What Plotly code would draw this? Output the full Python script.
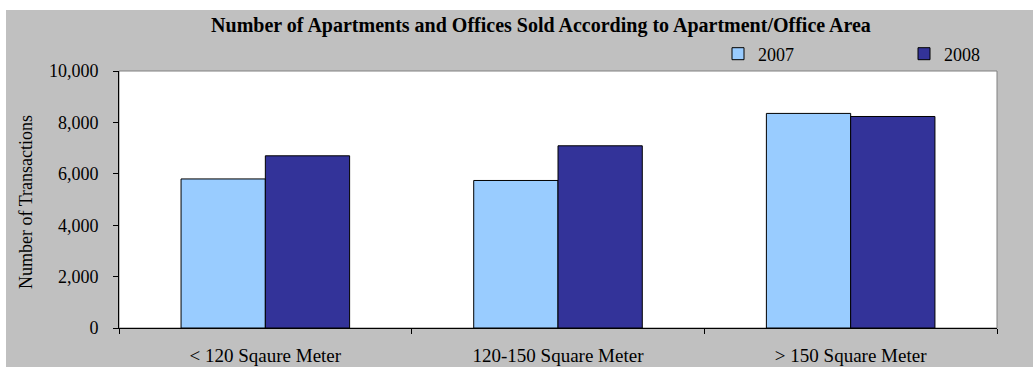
import plotly.graph_objects as go

# Transactions by apartment/office area, 2007 vs 2008
categories = ["< 120 Sqaure Meter", "120-150 Square Meter", "> 150 Square Meter"]
sales_2007 = [5800, 5740, 8350]
sales_2008 = [6700, 7090, 8230]

W, H = 1033, 367
ML, MR, MT, MB = 119, 36, 71, 39
PW, PH = W - ML - MR, H - MT - MB

SERIF = "Liberation Serif, Times New Roman, serif"


def px_x(px):
    return (px - ML) / PW


def px_y(py):
    return (H - MB - py) / PH


fig = go.Figure()
fig.add_trace(go.Bar(
    name="2007", x=categories, y=sales_2007,
    marker=dict(color="#99CCFF", line=dict(color="#000000", width=1)),
))
fig.add_trace(go.Bar(
    name="2008", x=categories, y=sales_2008,
    marker=dict(color="#333399", line=dict(color="#000000", width=1)),
))

shapes = [
    # grey chart panel, leaving a white border at the top and left of the page
    dict(type="rect", xref="paper", yref="paper", layer="below",
         x0=px_x(6), x1=px_x(W), y0=px_y(H), y1=px_y(10),
         fillcolor="#C0C0C0", line=dict(width=0)),
    # white plot area with a thin grey frame
    dict(type="rect", xref="paper", yref="paper", layer="below",
         x0=0, x1=1, y0=0, y1=1,
         fillcolor="#FFFFFF", line=dict(color="#808080", width=1)),
]

annotations = [
    dict(text="Number of Transactions", textangle=-90,
         xref="paper", yref="paper", x=px_x(26), y=px_y(202),
         xanchor="center", yanchor="middle", showarrow=False,
         font=dict(family=SERIF, size=18, color="#000000")),
]

fig.update_layout(
    template="none",
    width=W, height=H,
    margin=dict(l=ML, r=MR, t=MT, b=MB, pad=0, autoexpand=False),
    paper_bgcolor="#FFFFFF",
    plot_bgcolor="rgba(0,0,0,0)",
    font=dict(family=SERIF, size=18, color="#000000"),
    title=dict(
        text="<b>Number of Apartments and Offices Sold According to Apartment/Office Area</b>",
        x=541 / W, xref="container", xanchor="center",
        y=1 - 25 / H, yref="container", yanchor="middle",
        font=dict(family=SERIF, size=20, color="#000000"),
    ),
    barmode="group",
    bargap=0.424,
    bargroupgap=0,
    showlegend=True,
    legend=dict(
        orientation="h",
        xref="container", x=718 / W, xanchor="left",
        yref="container", y=1 - 54 / H, yanchor="middle",
        bgcolor="rgba(0,0,0,0)",
        font=dict(family=SERIF, size=18),
        entrywidth=141,
        traceorder="normal",
    ),
    shapes=shapes,
    annotations=annotations,
    xaxis=dict(
        type="category", automargin=False,
        showline=True, linecolor="#000000", linewidth=1,
        ticks="outside", tickson="boundaries", ticklen=5,
        tickcolor="#000000", tickwidth=1,
        showgrid=False,
        tickfont=dict(family=SERIF, size=19),
        ticklabelstandoff=10,
    ),
    yaxis=dict(
        automargin=False,
        range=[0, 10000], dtick=2000, tickformat=",d",
        showline=True, linecolor="#000000", linewidth=1,
        ticks="outside", ticklen=5, tickcolor="#000000", tickwidth=1,
        showgrid=False, zeroline=False,
        tickfont=dict(family=SERIF, size=18),
        ticklabelstandoff=11,
    ),
)

fig.write_html("out.html")
